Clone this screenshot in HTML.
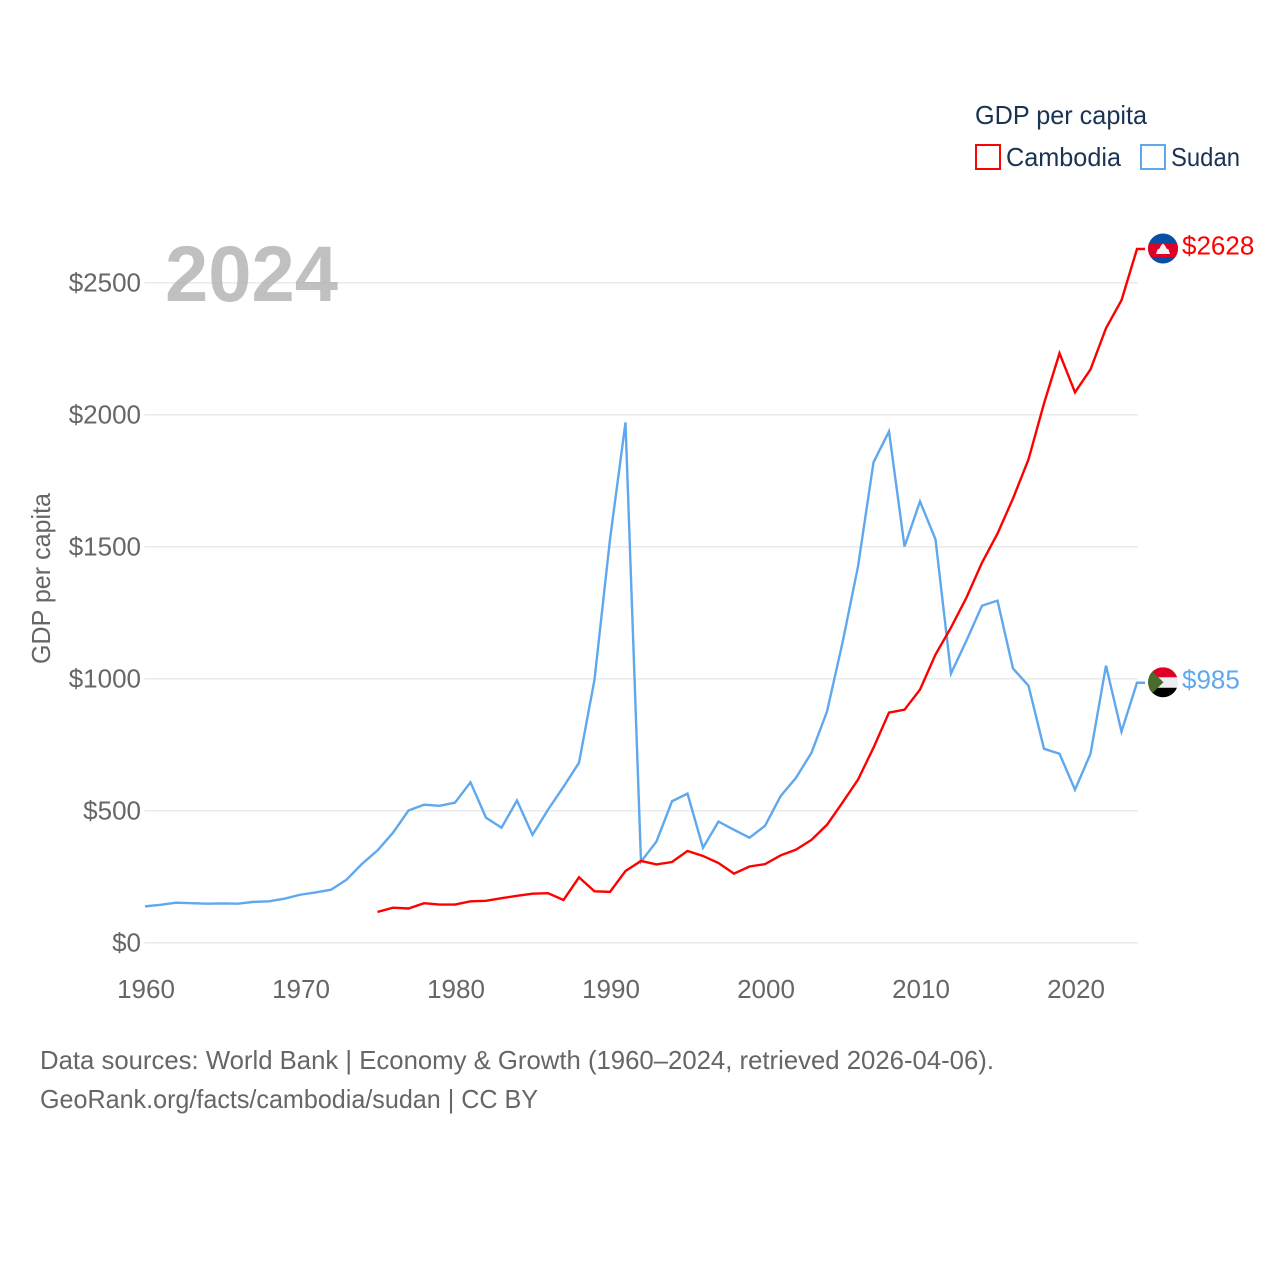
<!DOCTYPE html>
<html lang="en">
<head>
<meta charset="utf-8">
<title>GDP per capita: Cambodia vs Sudan</title>
<style>
html,body{margin:0;padding:0;background:#fff;width:1280px;height:1280px;overflow:hidden}
svg{display:block}
text{font-family:"Liberation Sans",sans-serif}
</style>
</head>
<body>
<svg id="chart" xmlns="http://www.w3.org/2000/svg" width="1280" height="1280" viewBox="0 0 1280 1280">
  <defs>
    <clipPath id="clip-flag"><circle cx="0" cy="0" r="15"/></clipPath>
  </defs>
  <rect width="1280" height="1280" fill="#ffffff"/>
  <g id="grid"></g>
  <g id="ylabels"></g>
  <g id="xlabels"></g>
  <text transform="translate(50,664) rotate(-90)" font-size="26" fill="#666666" textLength="171" lengthAdjust="spacingAndGlyphs">GDP per capita</text>
  <text x="165" y="301" font-size="79" font-weight="700" fill="#b0b0b0" fill-opacity="0.8" textLength="173" lengthAdjust="spacingAndGlyphs">2024</text>
  <g id="series"></g>

  <g id="flag-cambodia">
    <g clip-path="url(#clip-flag)">
      <rect x="-15" y="-15" width="30" height="30" fill="#0b4ea2"/>
      <rect x="-15" y="-5" width="30" height="13.5" fill="#e00025"/>
      <polygon points="-7,5.5 -5.5,1 -3.5,0 -2,-3 0,-5 2,-3 3.5,0 5.5,1 7,5.5" fill="#f2f2f2"/>
    </g>
  </g>
  <g id="flag-sudan">
    <g clip-path="url(#clip-flag)">
      <rect x="-15" y="-15" width="30" height="10.5" fill="#e00025"/>
      <rect x="-15" y="-5" width="30" height="10.5" fill="#eeeeee"/>
      <rect x="-15" y="5.5" width="30" height="10" fill="#000000"/>
      <polygon points="-15,-15 0.5,0 -15,15" fill="#4a6b2e"/>
    </g>
  </g>
  <text id="label-cambodia" x="1182" y="254" font-size="26" fill="#ff0000"></text>
  <text id="label-sudan" x="1182" y="688" font-size="26" fill="#5fa8ee"></text>

  <g>
    <text x="975" y="124" font-size="26" fill="#1a3353" textLength="172" lengthAdjust="spacingAndGlyphs">GDP per capita</text>
    <g>
      <rect x="976" y="145" width="24" height="24" fill="none" stroke="#ff0000" stroke-width="2"/>
      <text x="1006" y="166" font-size="26" fill="#1a3353" textLength="115" lengthAdjust="spacingAndGlyphs">Cambodia</text>
    </g>
    <g>
      <rect x="1141" y="145" width="24" height="24" fill="none" stroke="#5fa8ee" stroke-width="2"/>
      <text x="1171" y="166" font-size="26" fill="#1a3353" textLength="69" lengthAdjust="spacingAndGlyphs">Sudan</text>
    </g>
  </g>

  <text x="40" y="1069" font-size="26" fill="#666666" textLength="954" lengthAdjust="spacingAndGlyphs">Data sources: World Bank | Economy &amp; Growth (1960–2024, retrieved 2026-04-06).</text>
  <a><text x="40" y="1108" font-size="26" fill="#666666" textLength="498" lengthAdjust="spacingAndGlyphs">GeoRank.org/facts/cambodia/sudan | CC BY</text></a>
</svg>
<script>
const sudanStartYear = 1960;
const cambodiaStartYear = 1975;
const sudanValues = [138,144,152,150,148,149,148,155,157,167,182,191,201,239,299,350,417,501,523,519,531,608,474,436,539,409,504,591,682,997,1528,1971,307,384,536,565,360,459,428,398,443,555,625,720,876,1137,1425,1820,1937,1501,1672,1528,1020,1145,1277,1296,1039,974,735,716,580,716,1050,800,985];
const cambodiaValues = [117,133,130,150,145,145,157,159,169,178,186,188,162,248,195,193,272,310,297,306,348,329,302,262,289,298,331,353,390,447,531,618,739,872,883,959,1092,1194,1308,1440,1550,1683,1831,2043,2233,2085,2172,2328,2434,2628];
const yTickValues = [0,500,1000,1500,2000,2500];
const xTickValues = [1960,1970,1980,1990,2000,2010,2020];

const NS = 'http://www.w3.org/2000/svg';
function xScale(year){ return 145 + (year - 1960) * 15.5; }
function yScale(v){ return 942.8 - v * 0.264; }
function make(tag, attrs){
  const el = document.createElementNS(NS, tag);
  for (const k in attrs) el.setAttribute(k, attrs[k]);
  return el;
}

const gridG = document.getElementById('grid');
const yG = document.getElementById('ylabels');
yTickValues.forEach(function(v){
  const line = make('line', {x1:144.5, x2:1138, y1:yScale(v), y2:yScale(v), stroke:'#ececec', 'stroke-width':1.6});
  
  
  gridG.appendChild(line);
  const t = make('text', {x:141, y:yScale(v)+8.5, 'text-anchor':'end', 'font-size':26, fill:'#666666'});
  
  
  t.textContent = '$' + v;
  yG.appendChild(t);
});

const xG = document.getElementById('xlabels');
xTickValues.forEach(function(yr){
  const t = make('text', {x:xScale(yr)+1, y:998, 'text-anchor':'middle', 'font-size':26, fill:'#666666'});
  
  
  t.textContent = yr;
  xG.appendChild(t);
});

function seriesPoints(values, startYear){
  const pts = values.map(function(v, i){ return xScale(startYear + i).toFixed(2) + ',' + yScale(v).toFixed(2); });
  const last = values[values.length - 1];
  pts.push((xScale(startYear + values.length - 1) + 8).toFixed(2) + ',' + yScale(last).toFixed(2));
  return pts.join(' ');
}

const seriesG = document.getElementById('series');
const sudanLine = make('polyline', {points:seriesPoints(sudanValues, sudanStartYear), fill:'none', stroke:'#5fa8ee', 'stroke-width':2.4, 'stroke-linejoin':'miter'});


seriesG.appendChild(sudanLine);
const cambodiaLine = make('polyline', {points:seriesPoints(cambodiaValues, cambodiaStartYear), fill:'none', stroke:'#ff0000', 'stroke-width':2.4, 'stroke-linejoin':'miter'});


seriesG.appendChild(cambodiaLine);

const cambodiaLast = cambodiaValues[cambodiaValues.length - 1];
const sudanLast = sudanValues[sudanValues.length - 1];
document.getElementById('flag-cambodia').setAttribute('transform', 'translate(1163,' + (yScale(cambodiaLast) - 0.5) + ')');
document.getElementById('flag-sudan').setAttribute('transform', 'translate(1163,' + (yScale(sudanLast) - 0.5) + ')');
const labelC = document.getElementById('label-cambodia');
labelC.textContent = '$' + cambodiaLast;
labelC.setAttribute('y', yScale(cambodiaLast) + 5.5);
const labelS = document.getElementById('label-sudan');
labelS.textContent = '$' + sudanLast;
labelS.setAttribute('y', yScale(sudanLast) + 5.5);
</script>
</body>
</html>
